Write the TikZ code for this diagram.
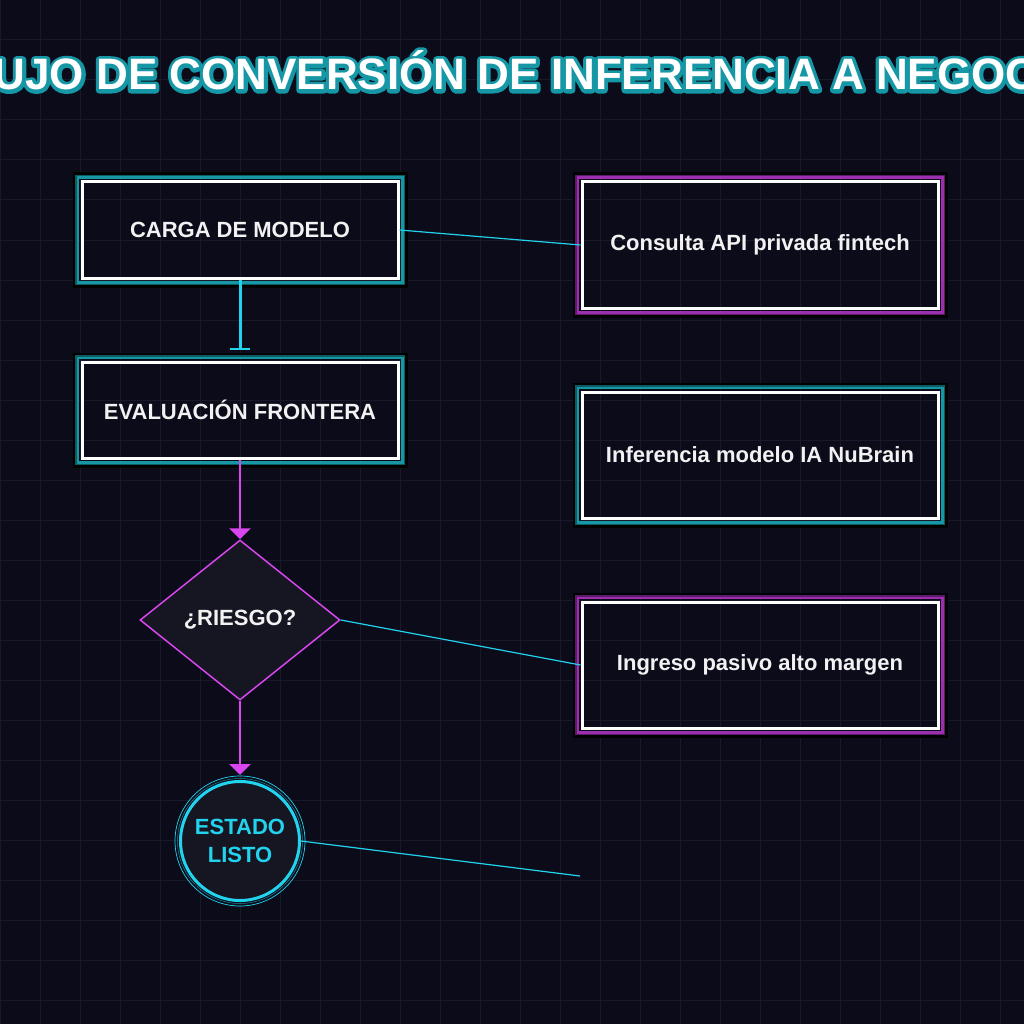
\documentclass[tikz,border=0pt]{standalone}
\usepackage{fontspec}
\setmainfont{Liberation Sans}
\usetikzlibrary{shapes.geometric,arrows.meta}
\definecolor{bgc}{HTML}{0B0B1A}
\definecolor{gridc}{HTML}{191929}
\definecolor{cyanc}{HTML}{22D3EE}
\definecolor{magc}{HTML}{D946EF}
\definecolor{tealA}{HTML}{1597A5}
\definecolor{tealB}{HTML}{0D5A62}
\definecolor{purA}{HTML}{9B2FAE}
\definecolor{purB}{HTML}{5C1A6A}
\definecolor{shapefill}{HTML}{161622}
\definecolor{txt}{HTML}{F2F2F2}
\newcommand{\strokedtext}[2]{\special{pdf:literal direct 1 Tr #1 w 1 j}#2\special{pdf:literal direct 0 Tr}}
\newcommand{\glowrect}[3]{%
  \draw[#2, line width=2.5pt] ([shift={(-2.75,-2.75)}]#1.north west) rectangle ([shift={(2.75,2.75)}]#1.south east);
  \draw[#3, line width=1.5pt] ([shift={(-4.75,-4.75)}]#1.north west) rectangle ([shift={(4.75,4.75)}]#1.south east);
  \draw[black, line width=2.5pt] ([shift={(-6.75,-6.75)}]#1.north west) rectangle ([shift={(6.75,6.75)}]#1.south east);
}
\tikzset{
  box/.style={draw=white, line width=3pt, minimum width=316pt, minimum height=96pt, inner sep=0pt,
    font=\fontsize{22}{26}\selectfont\bfseries, text=txt},
  rbox/.style={box, minimum width=356pt, minimum height=126pt},
  thin/.style={cyanc, line width=1.2pt},
  magarrow/.style={magc, line width=2.5pt, -{Triangle[width=21pt,length=11pt]}},
}
\begin{document}
\begin{tikzpicture}[x=1pt,y=-1pt]
\useasboundingbox (0,0) rectangle (1024,1024);
\fill[bgc] (0,0) rectangle (1024,1024);
\foreach \i in {0,40,...,1000} {
  \draw[gridc, line width=1pt] (\i,0) -- (\i,1024);
  \draw[gridc, line width=1pt] (0,\i) -- (1024,\i);
}
% title
\node[anchor=base, inner sep=0pt, text=tealA, font=\fontsize{44}{50}\selectfont\bfseries] (titleglow) at (512,90) {\strokedtext{7}{FLUJO DE CONVERSIÓN DE INFERENCIA A NEGOCIO}};
\node[anchor=base, inner sep=0pt, text=white, font=\fontsize{44}{50}\selectfont\bfseries] (title) at (512,90) {FLUJO DE CONVERSIÓN DE INFERENCIA A NEGOCIO};

% left column
\node[box] (carga) at (240,230) {CARGA DE MODELO};
\node[box] (eval) at (240,410) {EVALUACIÓN FRONTERA};
\glowrect{carga}{tealA}{tealB}
\glowrect{eval}{tealA}{tealB}

% right column
\node[rbox] (consulta) at (760,245) {Consulta API privada fintech};
\node[rbox] (infer) at (760,455) {Inferencia modelo IA NuBrain};
\node[rbox] (ingreso) at (760,665) {Ingreso pasivo alto margen};
\glowrect{consulta}{purA}{purB}
\glowrect{infer}{tealA}{tealB}
\glowrect{ingreso}{purA}{purB}

% decision
\node[diamond, draw=magc, line width=1.5pt, fill=shapefill, minimum width=200pt, minimum height=160pt, inner sep=0pt,
  font=\fontsize{22}{26}\selectfont\bfseries, text=txt] (dia) at (240,620) {¿RIESGO?};

% end state
\node[circle, draw=cyanc, line width=3pt, fill=shapefill, minimum size=119pt, inner sep=0pt, align=center,
  font=\fontsize{22}{27.6}\selectfont\bfseries, text=cyanc] (estado) at (240,841) {ESTADO\\LISTO};
\draw[cyanc, line width=0.7pt] (estado.center) circle (65);
\draw[cyanc, line width=0.5pt, opacity=0.6] (estado.center) circle (62.5);

\coordinate (freeend) at (580,876);

% connectors
\draw[cyanc, line width=3pt, -{Bar[width=20pt,line width=2pt]}] (carga.south) -- ([yshift=11pt]eval.north);
\draw[magarrow] (eval.south) -- (dia.north);
\draw[magarrow] (dia.south) -- ([yshift=5pt]estado.north);
\draw[thin] (carga.east) -- (consulta.west);
\draw[thin] (dia.east) -- (ingreso.west);
\draw[thin] (estado.east) -- (freeend);
\end{tikzpicture}
\end{document}
